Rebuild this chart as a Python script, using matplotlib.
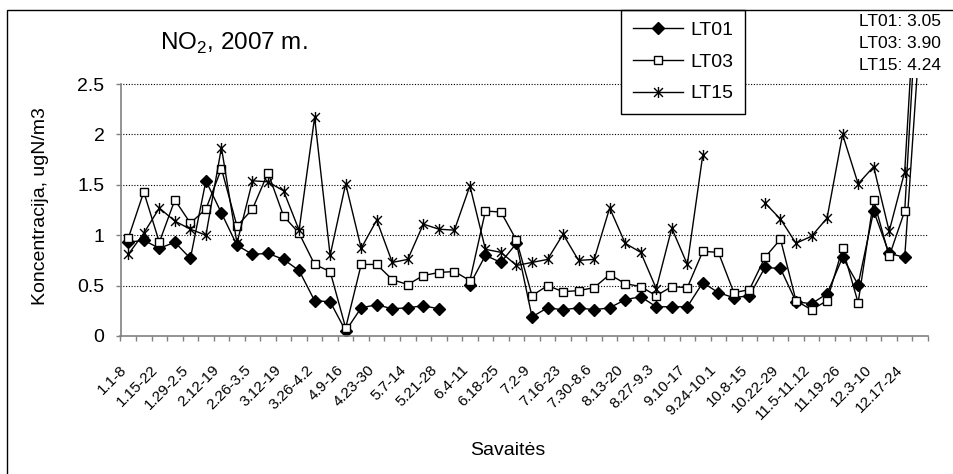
import numpy as np
import matplotlib
matplotlib.use("Agg")
import matplotlib.pyplot as plt
from matplotlib.path import Path
from matplotlib.patches import Rectangle
from matplotlib.transforms import ScaledTranslation

plt.rcParams['font.family'] = ['Liberation Sans', 'DejaVu Sans']
plt.rcParams['mathtext.fontset'] = 'custom'
plt.rcParams['mathtext.rm'] = 'Liberation Sans'

nan = np.nan

# week labels (every second week is labelled)
week_labels = ["1.1-8", "1.15-22", "1.29-2.5", "2.12-19", "2.26-3.5", "3.12-19",
               "3.26-4.2", "4.9-16", "4.23-30", "5.7-14", "5.21-28", "6.4-11",
               "6.18-25", "7.2-9", "7.16-23", "7.30-8.6", "8.13-20", "8.27-9.3",
               "9.10-17", "9.24-10.1", "10.8-15", "10.22-29", "11.5-11.12",
               "11.19-26", "12.3-10", "12.17-24"]

lt01 = [0.93, 0.95, 0.87, 0.93, 0.77, 1.54, 1.22, 0.90, 0.81, 0.82,
        0.76, 0.65, 0.35, 0.34, 0.05, 0.28, 0.31, 0.27, 0.28, 0.30,
        0.27, nan, 0.51, 0.80, 0.73, 0.92, 0.19, 0.28, 0.26, 0.28,
        0.26, 0.28, 0.36, 0.39, 0.29, 0.29, 0.29, 0.53, 0.43, 0.38,
        0.40, 0.68, 0.67, 0.34, 0.32, 0.42, 0.78, 0.51, 1.24, 0.82,
        0.78, 3.05]
lt03 = [0.97, 1.43, 0.93, 1.35, 1.12, 1.26, 1.66, 1.09, 1.26, 1.62,
        1.19, 1.02, 0.71, 0.64, 0.08, 0.71, 0.71, 0.56, 0.51, 0.60,
        0.63, 0.64, 0.55, 1.24, 1.23, 0.95, 0.40, 0.50, 0.44, 0.45,
        0.48, 0.61, 0.52, 0.49, 0.40, 0.49, 0.48, 0.84, 0.83, 0.43,
        0.46, 0.78, 0.96, 0.35, 0.26, 0.35, 0.87, 0.33, 1.35, 0.79,
        1.24, 3.90]
lt15 = [0.81, 1.02, 1.27, 1.14, 1.06, 1.00, 1.87, 0.92, 1.54, 1.53,
        1.44, 1.05, 2.17, 0.80, 1.51, 0.87, 1.15, 0.73, 0.76, 1.11,
        1.06, 1.05, 1.49, 0.86, 0.83, 0.70, 0.73, 0.76, 1.01, 0.75,
        0.76, 1.27, 0.92, 0.83, 0.47, 1.07, 0.71, 1.80, nan, nan,
        nan, 1.32, 1.16, 0.92, 0.99, 1.17, 2.00, 1.51, 1.68, 1.04,
        1.63, 4.24]

x = np.arange(len(lt01))

# excel-like asterisk: an x with a vertical bar
asterisk = Path([(-1, -1), (1, 1), (-1, 1), (1, -1), (0, -1.25), (0, 1.25)],
                [Path.MOVETO, Path.LINETO, Path.MOVETO, Path.LINETO,
                 Path.MOVETO, Path.LINETO])

W, H = 954, 474
fig = plt.figure(figsize=(W / 100, H / 100), dpi=100)
ax = fig.add_axes([120.5 / W, 138 / H, 807.5 / W, 258 / H])

ax.plot(x, lt01, color='black', lw=1, marker='D', ms=6.5, mfc='black', mec='black', label='LT01')
ax.plot(x, lt03, color='black', lw=1, marker='s', ms=6, mfc='white', mec='black', mew=1, label='LT03')
ax.plot(x, lt15, color='black', lw=1, marker=asterisk, ms=8, mec='black', mew=1, label='LT15')

ax.set_xlim(-0.5, len(x) - 0.5)
ax.set_ylim(0, 2.56)
yt = [0, 0.5, 1, 1.5, 2, 2.5]
ax.set_yticks(yt)
ax.set_yticklabels(['0', '0.5', '1', '1.5', '2', '2.5'], fontsize=14)
ax.hlines(yt[1:], -0.5, len(x) - 0.5, colors='black', linestyles=(0, (1, 1.5)), lw=0.8, zorder=0)

for s in ['top', 'right']:
    ax.spines[s].set_visible(False)
for s in ['left', 'bottom']:
    ax.spines[s].set_color('#808080')
    ax.spines[s].set_linewidth(1.2)
ax.spines['left'].set_bounds(0, 2.5)

ax.tick_params(axis='y', length=3.6, width=1, color='#808080', pad=8)
ax.set_xticks(np.arange(0, len(x), 2))
ax.set_xticks(np.arange(-0.5, len(x), 1), minor=True)
ax.set_xticklabels(week_labels, rotation=45, ha='right', rotation_mode='anchor', fontsize=11)
ax.tick_params(axis='x', which='major', length=0, pad=19)
ax.tick_params(axis='x', which='minor', length=3.6, width=1, color='#808080')
for lbl in ax.get_xticklabels():
    lbl.set_transform(lbl.get_transform() + ScaledTranslation(-9 / 100, 0, fig.dpi_scale_trans))

ax.set_ylabel('Koncentracija, ugN/m3', fontsize=14)
ax.yaxis.set_label_coords(-0.088, 0.504)
ax.set_xlabel('Savaitės', fontsize=14)
ax.xaxis.set_label_coords(0.479, -0.41)

fig.text(160 / W, 1 - 43 / H, 'NO$_2$, 2007 m.', fontsize=17.5, ha='left', va='center')

for name, vals, yy in [('LT01', lt01, 22), ('LT03', lt03, 44), ('LT15', lt15, 66)]:
    fig.text(941 / W, 1 - yy / H, f'{name}: {vals[-1]:.2f}', fontsize=12.5, ha='right', va='center')

leg = ax.legend(loc='upper left', bbox_to_anchor=(621 / W, 1 - 10 / H), bbox_transform=fig.transFigure,
                fontsize=14, frameon=True, fancybox=False, edgecolor='black', framealpha=1,
                borderaxespad=0, handlelength=2.6, handletextpad=0.35, labelspacing=0.72,
                borderpad=0.6, numpoints=1)
leg.get_frame().set_linewidth(1)

fig.patches.append(Rectangle((7 / W, -0.05), 1.1, 1 - 10 / H + 0.05, transform=fig.transFigure,
                             fill=False, ec='black', lw=1))

fig.savefig('out.png', dpi=100)
